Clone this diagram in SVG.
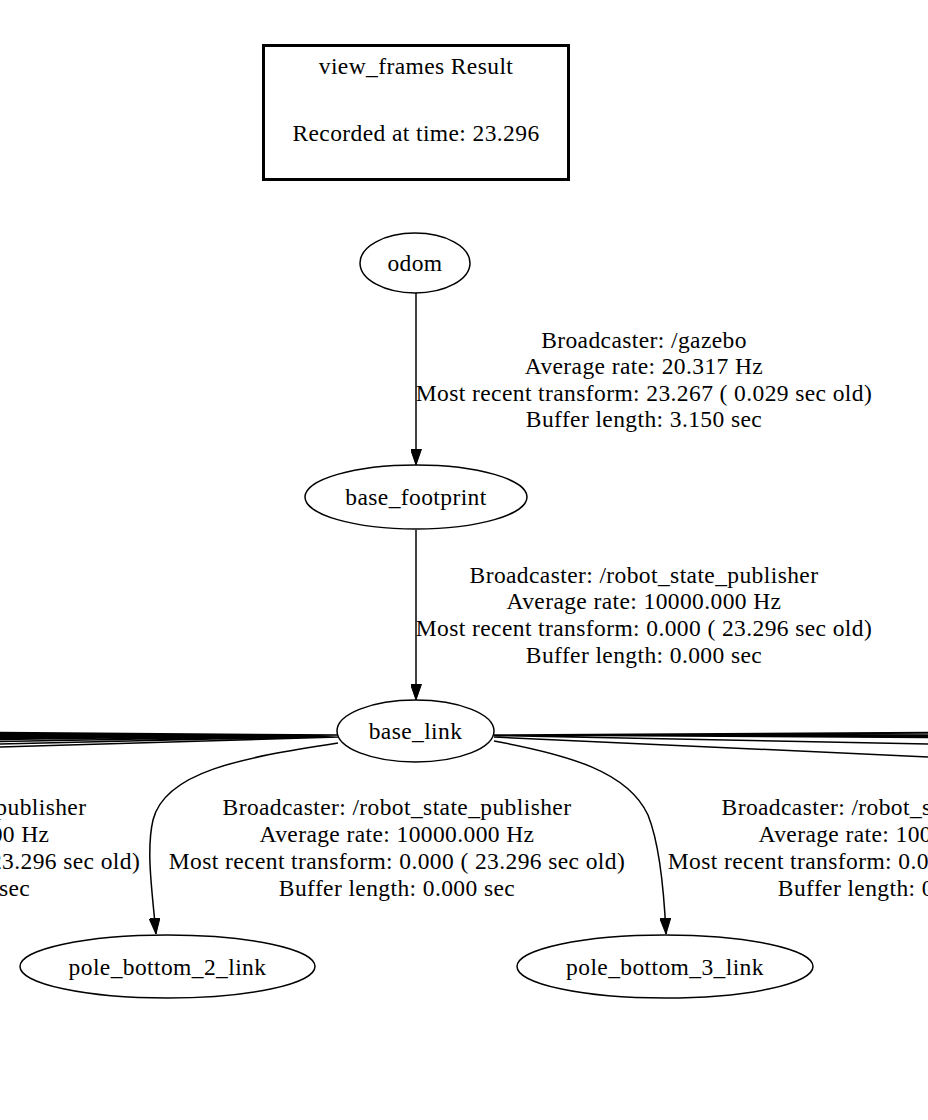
<svg xmlns="http://www.w3.org/2000/svg" width="928" height="1120" viewBox="0 0 928 1120">
<defs>
<marker id="ah" viewBox="0 0 16 11" refX="16" refY="5.5" markerWidth="16" markerHeight="11" markerUnits="userSpaceOnUse" orient="auto">
<path d="M0,0 L16,5.5 L0,11 Z" fill="#000" stroke="#000" stroke-width="1"/>
</marker>
<style>
text{font-family:"Liberation Serif","Times New Roman",serif;font-size:23.5px;letter-spacing:0.4px;fill:#000;text-anchor:middle}
.node ellipse{fill:none;stroke:#000;stroke-width:1.5}
.edge{fill:none;stroke:#000;stroke-width:1.5}
.arr{marker-end:url(#ah)}
</style>
</defs>
<rect width="928" height="1120" fill="#fff"/>
<g id="title">
<rect x="263.5" y="45.5" width="305" height="134" fill="none" stroke="#000" stroke-width="3"/>
<text x="416" y="74">view_frames Result</text>
<text x="416" y="141">Recorded at time: 23.296</text>
</g>
<g id="connectors">
<path class="edge arr" d="M416,293 L416,465"/>
<path class="edge arr" d="M416,530 L416,700"/>
<path class="edge arr" d="M338,743 C240,758 165,772 153,820 C146,850 152,890 156,934"/>
<path class="edge arr" d="M494,741 C570,755 628,772 648,815 C660,845 664,890 666,934"/>
<path class="edge" d="M338,735 L0,732.5 M338,735 L0,733.5 M338,735 L0,734.5 M338,735 L0,735.5 M338,735 L0,736.5 M338,735 L0,737.5 M338,735 L0,738.5 M338,735 L0,739.5 M338,735.5 L0,741.5 M338,736 L0,744 M338,737 L0,747"/>
<path class="edge" d="M494,735 L928,732.5 M494,735 L928,733.5 M494,735 L928,734.5 M494,735 L928,735.5 M494,735 L928,736.5 M494,735 L928,737.5 M494,735.5 L928,744 M494,737 L928,757"/>
</g>
<g id="lbl_odom_footprint">
<text x="644" y="348">Broadcaster: /gazebo</text>
<text x="644" y="374">Average rate: 20.317 Hz</text>
<text x="644" y="401">Most recent transform: 23.267 ( 0.029 sec old)</text>
<text x="644" y="427">Buffer length: 3.150 sec</text>
</g>
<g id="lbl_footprint_link">
<text x="644" y="583">Broadcaster: /robot_state_publisher</text>
<text x="644" y="609">Average rate: 10000.000 Hz</text>
<text x="644" y="636">Most recent transform: 0.000 ( 23.296 sec old)</text>
<text x="644" y="663">Buffer length: 0.000 sec</text>
</g>
<g id="lbl_link_pole1">
<text x="-88" y="815">Broadcaster: /robot_state_publisher</text>
<text x="-88" y="842">Average rate: 10000.000 Hz</text>
<text x="-88" y="869">Most recent transform: 0.000 ( 23.296 sec old)</text>
<text x="-88" y="896">Buffer length: 0.000 sec</text>
</g>
<g id="lbl_link_pole2">
<text x="397" y="815">Broadcaster: /robot_state_publisher</text>
<text x="397" y="842">Average rate: 10000.000 Hz</text>
<text x="397" y="869">Most recent transform: 0.000 ( 23.296 sec old)</text>
<text x="397" y="896">Buffer length: 0.000 sec</text>
</g>
<g id="lbl_link_pole3">
<text x="896" y="815">Broadcaster: /robot_state_publisher</text>
<text x="896" y="842">Average rate: 10000.000 Hz</text>
<text x="896" y="869">Most recent transform: 0.000 ( 23.296 sec old)</text>
<text x="896" y="896">Buffer length: 0.000 sec</text>
</g>
<g id="odom" class="node">
<ellipse cx="415" cy="263" rx="55" ry="30"/>
<text x="415" y="271">odom</text>
</g>
<g id="base_footprint" class="node">
<ellipse cx="416" cy="497" rx="111" ry="32"/>
<text x="416" y="505">base_footprint</text>
</g>
<g id="base_link" class="node">
<ellipse cx="415.5" cy="731" rx="78.5" ry="31"/>
<text x="415.5" y="739">base_link</text>
</g>
<g id="pole_bottom_2_link" class="node">
<ellipse cx="167.5" cy="966.5" rx="147.5" ry="31.5"/>
<text x="167.5" y="975">pole_bottom_2_link</text>
</g>
<g id="pole_bottom_3_link" class="node">
<ellipse cx="665" cy="966.5" rx="148" ry="31.5"/>
<text x="665" y="975">pole_bottom_3_link</text>
</g>
</svg>
